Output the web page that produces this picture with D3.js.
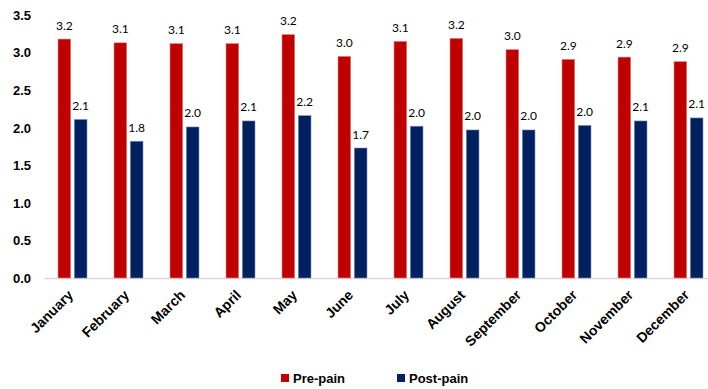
<!DOCTYPE html>
<html>
<head>
<meta charset="utf-8">
<script src="https://cdn.jsdelivr.net/npm/d3@7"></script>
<style>
  body { margin: 0; background: #fff; }
  svg { display: block; }
</style>
</head>
<body>
<div id="chart"></div>
<script>
var months = ["January", "February", "March", "April", "May", "June", "July",
  "August", "September", "October", "November", "December"];
var prePain = [3.18, 3.13, 3.12, 3.12, 3.24, 2.95, 3.15, 3.19, 3.04, 2.91, 2.94, 2.88];
var postPain = [2.11, 1.82, 2.01, 2.09, 2.16, 1.73, 2.02, 1.97, 1.97, 2.03, 2.09, 2.13];
var seriesNames = ["Pre-pain", "Post-pain"];
var colors = ["#c00000", "#002060"];
var yTicks = [0, 0.5, 1, 1.5, 2, 2.5, 3, 3.5];

var width = 708, height = 389;
var margin = {top: 15, left: 44.5, bottom: 111};

var svg = d3.select("#chart").append("svg")
    .attr("width", width)
    .attr("height", height);

var x = d3.scaleBand()
    .domain(months)
    .range([margin.left, margin.left + 56 * months.length]);

var x1 = d3.scaleBand()
    .domain(seriesNames)
    .range([13.5, 42.5])
    .paddingInner(0.22);

var y = d3.scaleLinear()
    .domain([0, 3.5])
    .range([height - margin.bottom, margin.top]);

// y tick labels, no axis line
var yAxis = svg.append("g")
    .attr("transform", "translate(32,0)")
    .call(d3.axisLeft(y).tickValues(yTicks).tickFormat(d3.format(".1f")).tickSize(0));
yAxis.select(".domain").remove();
yAxis.selectAll("text")
    .attr("x", -1)
    .attr("dy", "0.34em")
    .style("font", "bold 13px 'Liberation Sans', Arial, sans-serif")
    .attr("fill", "#000");

// base line
svg.append("line")
    .attr("x1", margin.left).attr("x2", width)
    .attr("y1", y(0) + 0.5).attr("y2", y(0) + 0.5)
    .attr("stroke", "#d9d9d9")
    .attr("stroke-width", 1.5);

var rows = months.map(function(m, i) {
  return {month: m, values: [prePain[i], postPain[i]]};
});

var groups = svg.selectAll(".month")
    .data(rows)
    .enter().append("g")
    .attr("class", "month")
    .attr("transform", function(d) { return "translate(" + x(d.month) + ",0)"; });

groups.selectAll("rect")
    .data(function(d) { return d.values.map(function(v, j) { return {key: seriesNames[j], value: v, j: j}; }); })
    .enter().append("rect")
    .attr("x", function(d) { return x1(d.key); })
    .attr("width", x1.bandwidth())
    .attr("y", function(d) { return y(d.value); })
    .attr("height", function(d) { return y(0) - y(d.value); })
    .attr("fill", function(d) { return colors[d.j]; })
    .attr("stroke", function(d) { return d.j == 0 ? "#e88a8a" : "#7f8fb8"; })
    .attr("stroke-width", 0.6);

groups.selectAll(".lbl")
    .data(function(d) { return d.values.map(function(v, j) { return {key: seriesNames[j], value: v}; }); })
    .enter().append("text")
    .attr("class", "lbl")
    .attr("x", function(d) { return x1(d.key) + x1.bandwidth() / 2; })
    .attr("y", function(d) { return y(d.value) - 9.5; })
    .attr("text-anchor", "middle")
    .style("font", "12px Lato, 'Open Sans', sans-serif")
    .attr("fill", "#000")
    .text(function(d) { return d3.format(".1f")(d.value); });

// month labels
svg.selectAll(".mlab")
    .data(months)
    .enter().append("text")
    .attr("class", "mlab")
    .attr("text-anchor", "end")
    .attr("transform", function(d) {
      return "translate(" + (x(d) + x.bandwidth() / 2 + 1.5) + "," + (y(0) + 18) + ") rotate(-45)";
    })
    .style("font", "bold 14px 'Liberation Sans', Arial, sans-serif")
    .attr("fill", "#000")
    .text(function(d) { return d; });

// legend
var legendX = [281, 397];
var legend = svg.selectAll(".leg")
    .data(seriesNames)
    .enter().append("g")
    .attr("class", "leg")
    .attr("transform", function(d, i) { return "translate(" + legendX[i] + ",374)"; });
legend.append("rect")
    .attr("width", 8).attr("height", 8)
    .attr("fill", function(d, i) { return colors[i]; });
legend.append("text")
    .attr("x", 12).attr("y", 8.5)
    .style("font", "bold 13px 'Liberation Sans', Arial, sans-serif")
    .attr("fill", "#000")
    .text(function(d) { return d; });
</script>
</body>
</html>
